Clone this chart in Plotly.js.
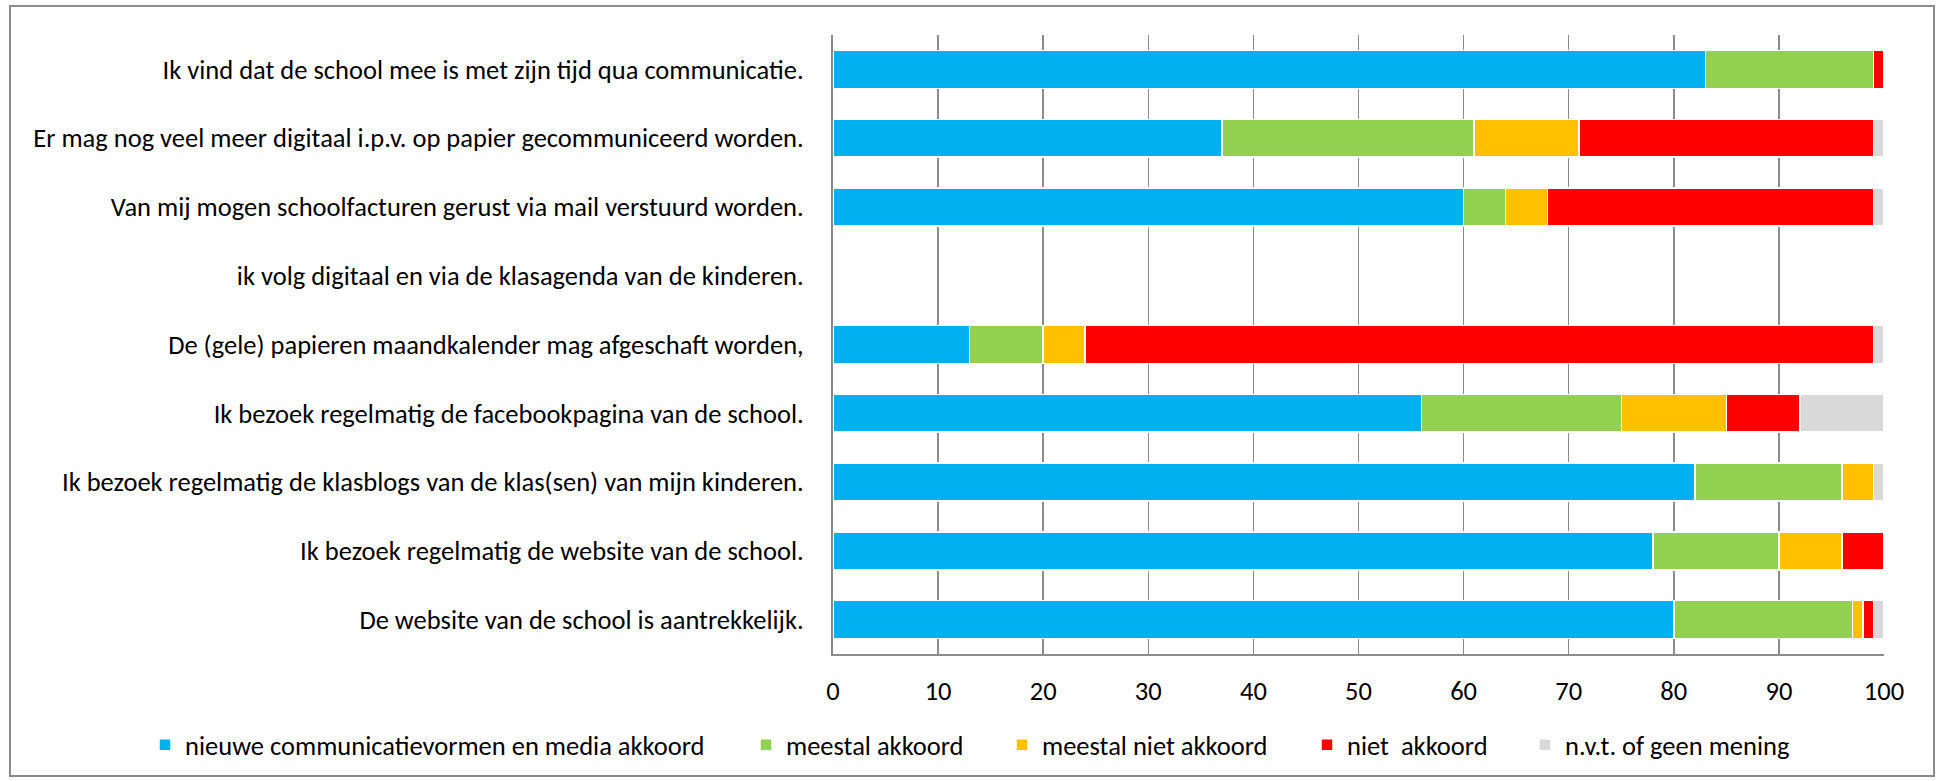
<!DOCTYPE html>
<html>
<head>
<meta charset="utf-8">
<script src="https://cdn.plot.ly/plotly-3.0.1.min.js"></script>
<style>
  html, body { margin: 0; padding: 0; background: #fff; }
  #chart { position: absolute; left: 0; top: 0; width: 1937px; height: 781px; }
  #frame { position: absolute; left: 9px; top: 5px; width: 1922px; height: 768px; border: 2px solid #8c8c8c; pointer-events: none; }
</style>
</head>
<body>
<div id="chart"></div>
<div id="frame"></div>
<script>
const categories = [
  "Ik vind dat de school mee is met zijn tijd qua communicatie.",
  "Er mag nog veel meer digitaal i.p.v. op papier gecommuniceerd worden.",
  "Van mij mogen schoolfacturen gerust via mail verstuurd worden.",
  "ik volg digitaal en via de klasagenda van de kinderen.",
  "De (gele) papieren maandkalender mag afgeschaft worden,",
  "Ik bezoek regelmatig de facebookpagina van de school.",
  "Ik bezoek regelmatig de klasblogs van de klas(sen) van mijn kinderen.",
  "Ik bezoek regelmatig de website van de school.",
  "De website van de school is aantrekkelijk."
];
const seriesNames = [
  "nieuwe communicatievormen en media akkoord",
  "meestal akkoord",
  "meestal niet akkoord",
  "niet  akkoord",
  "n.v.t. of geen mening"
];
const akkoord        = [83, 37, 60, null, 13, 56, 82, 78, 80];
const meestalAkkoord = [16, 24,  4, null,  7, 19, 14, 12, 17];
const meestalNiet    = [ 0, 10,  4, null,  4, 10,  3,  6,  1];
const nietAkkoord    = [ 1, 28, 31, null, 75,  7,  0,  4,  1];
const nvt            = [ 0,  1,  1, null,  1,  8,  1,  0,  1];
const xTicks = [0, 10, 20, 30, 40, 50, 60, 70, 80, 90, 100];

const seriesValues = [akkoord, meestalAkkoord, meestalNiet, nietAkkoord, nvt];
const colors = ["#00B0F0", "#92D050", "#FFC000", "#FF0000", "#D9D9D9"];
const legendIds = ["legend", "legend2", "legend3", "legend4", "legend5"];
const legendX = [-0.6546, -0.0828, 0.1608, 0.4510, 0.6584];

const FONT = "Carlito, Calibri, 'Liberation Sans Narrow', 'DejaVu Sans Condensed', Roboto, sans-serif";
const FS = 26.5;

const traces = seriesValues.map((vals, i) => ({
  type: "bar",
  orientation: "h",
  name: seriesNames[i],
  legend: legendIds[i],
  y: categories,
  x: vals,
  marker: { color: colors[i], line: { color: "#ffffff", width: 1.5 } },
  hoverinfo: "x+name"
}));

const layout = {
  width: 1937,
  height: 781,
  barmode: "stack",
  bargap: 0.45,
  paper_bgcolor: "#ffffff",
  plot_bgcolor: "#ffffff",
  font: { family: FONT, size: FS, color: "#000000" },
  margin: { l: 833, r: 53, t: 35, b: 127, pad: 0 },
  showlegend: true,
  xaxis: {
    range: [0, 100],
    tickvals: xTicks,
    ticktext: xTicks.map(String),
    showgrid: true,
    gridcolor: "#8c8c8c",
    gridwidth: 1.5,
    zeroline: false,
    showline: true,
    linecolor: "#8c8c8c",
    linewidth: 2,
    ticks: "",
    ticklabelstandoff: 12,
    tickfont: { family: FONT, size: FS, color: "#000000" }
  },
  yaxis: {
    type: "category",
    autorange: "reversed",
    showgrid: false,
    zeroline: false,
    showline: true,
    linecolor: "#8c8c8c",
    linewidth: 2,
    ticks: "",
    ticklabelstandoff: 22,
    tickfont: { family: FONT, size: FS, color: "#000000" }
  }
};

legendIds.forEach((id, i) => {
  layout[id] = {
    orientation: "h",
    x: legendX[i],
    xanchor: "left",
    y: -0.147,
    yanchor: "middle",
    bgcolor: "rgba(0,0,0,0)",
    font: { family: FONT, size: FS, color: "#000000" },
    itemwidth: 30
  };
});

Plotly.newPlot("chart", traces, layout, { displayModeBar: false, staticPlot: true });
</script>
</body>
</html>
